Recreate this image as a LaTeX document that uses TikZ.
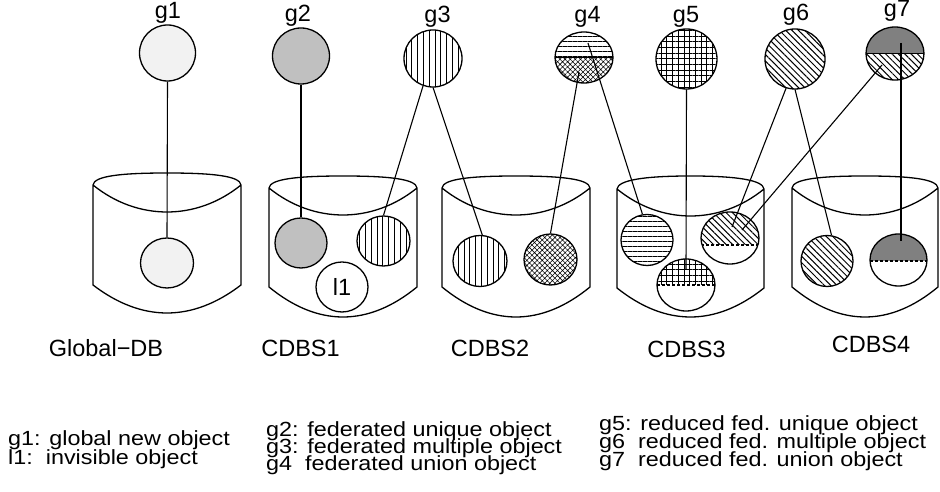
\documentclass[tikz,border=0pt]{standalone}
\usepackage{fontspec}
\setmainfont{Liberation Sans}
\usetikzlibrary{shapes.geometric,patterns.meta}
\definecolor{lightg}{HTML}{F2F2F2}
\definecolor{midg}{HTML}{C0C0C0}
\definecolor{darkg}{HTML}{808080}
\newcommand\mybucket[7]{%
  \draw[shp] (#1,#3) -- (#1,#6)
    .. controls ({#1+0.33*(#2-#1)},{#6-(#6-#7)*4/3}) and ({#2-0.33*(#2-#1)},{#6-(#6-#7)*4/3}) .. (#2,#6)
    -- (#2,#3)
    .. controls ({#2-1},{#3+9}) and ({#2-28},#4) .. ({(#1+#2)/2},#4)
    .. controls ({#1+28},#4) and ({#1+1},{#3+9}) .. (#1,#3)
    .. controls ({#1+0.3*(#2-#1)},{#3-(#3-#5)*4/3}) and ({#2-0.3*(#2-#1)},{#3-(#3-#5)*4/3}) .. (#2,#3);}
\begin{document}
\begin{tikzpicture}[x=1pt,y=1pt,
  shp/.style={line width=1.3pt, line join=round},
  obj/.style={ellipse, draw, line width=1.3pt, inner sep=0pt, preaction={fill=white}},
  con/.style={line width=1.1pt},
  lab/.style={font=\fontsize{23.5}{28}\selectfont, anchor=base, inner sep=0pt},
  leg/.style={font=\fontsize{20.5}{24}\selectfont, anchor=base west, inner sep=0pt},
  vlines/.style={pattern={Lines[angle=90,distance=5.8pt,line width=1pt]}},
  hlines/.style={pattern={Lines[angle=0,distance=5pt,line width=1pt]}},
  dlines/.style={pattern={Lines[angle=-45,distance=4.5pt,line width=1pt]}},
  gridpat/.style={pattern={Hatch[angle=0,distance=5.7pt,line width=0.9pt]}},
  finepat/.style={pattern={Hatch[angle=45,distance=3.6pt,line width=0.55pt]}},
  divd/.style={line width=1.1pt, dash pattern=on 3pt off 2pt},
  divs/.style={line width=1.1pt}
]
\useasboundingbox (0,0) rectangle (940,492);

% buckets
\mybucket{93}{241}{307}{319}{280}{207}{179}
\mybucket{269}{417}{304}{316}{277}{205}{175}
\mybucket{442}{590}{304}{316}{277}{205}{175}
\mybucket{617}{764}{303}{316}{276}{204}{175}
\mybucket{792}{938}{304}{316}{277}{205}{175}

% top objects
\node[obj, minimum width=56pt, minimum height=56pt, fill=lightg] (g1) at (167.5,439) {};
\node[obj, minimum width=57pt, minimum height=56pt, fill=midg] (g2) at (301,436) {};
\node[obj, minimum width=58pt, minimum height=57pt, vlines] (g3) at (433,433.5) {};
\node[obj, minimum width=58pt, minimum height=51pt, path picture={
   \fill[hlines] (path picture bounding box.west) rectangle (path picture bounding box.north east);
   \fill[finepat] (path picture bounding box.west) rectangle (path picture bounding box.south east);
   \draw[divs] (path picture bounding box.west) -- (path picture bounding box.east);}] (g4) at (584,434.5) {};
\node[obj, minimum width=61pt, minimum height=60pt, gridpat] (g5) at (686.5,433) {};
\node[obj, minimum width=60pt, minimum height=60pt, dlines] (g6) at (795,433) {};
\node[obj, minimum width=58pt, minimum height=53pt, path picture={
   \fill[darkg] (path picture bounding box.west) rectangle (path picture bounding box.north east);
   \fill[dlines] (path picture bounding box.west) rectangle (path picture bounding box.south east);
   \draw[divs] (path picture bounding box.west) -- (path picture bounding box.east);}] (g7) at (895,438.5) {};

\node[lab] (tg1) at (168,473) {g1};
\node[lab] (tg2) at (298,470) {g2};
\node[lab] (tg3) at (437.5,469) {g3};
\node[lab] (tg4) at (587.5,469) {g4};
\node[lab] (tg5) at (686,469) {g5};
\node[lab] (tg6) at (796,471) {g6};
\node[lab] (tg7) at (897,475) {g7};

% objects inside the databases
\node[obj, minimum width=53pt, minimum height=50pt, fill=lightg] (c0) at (167,229) {};
\node[obj, minimum width=52pt, minimum height=50pt, fill=midg] (c1a) at (301,249) {};
\node[obj, minimum width=53pt, minimum height=50pt, vlines] (c1b) at (383.5,251) {};
\node[obj, minimum width=52pt, minimum height=50pt, font=\fontsize{23.5}{28}\selectfont] (cl1) at (342,205) {l1};
\node[obj, minimum width=54pt, minimum height=51pt, vlines] (c2a) at (480,231) {};
\node[obj, minimum width=53pt, minimum height=51pt, finepat] (c2b) at (550.5,232.5) {};
\node[obj, minimum width=52pt, minimum height=51pt, hlines] (c3a) at (647,252) {};
\node[obj, minimum width=58pt, minimum height=52pt, path picture={
   \fill[dlines] ([yshift=-7pt]path picture bounding box.west) rectangle (path picture bounding box.north east);
   \draw[divd] ([yshift=-7pt]path picture bounding box.west) -- ([yshift=-7pt]path picture bounding box.east);}] (c3b) at (730,254) {};
\node[obj, minimum width=58pt, minimum height=52pt, path picture={
   \fill[gridpat] (path picture bounding box.west) rectangle (path picture bounding box.north east);
   \draw[divd] (path picture bounding box.west) -- (path picture bounding box.east);}] (c3c) at (686,207) {};
\node[obj, minimum width=52pt, minimum height=51pt, dlines] (c4a) at (827,231) {};
\node[obj, minimum width=57pt, minimum height=52pt, path picture={
   \fill[darkg] ([yshift=-1pt]path picture bounding box.west) rectangle (path picture bounding box.north east);
   \draw[divd] ([yshift=-1pt]path picture bounding box.west) -- ([yshift=-1pt]path picture bounding box.east);}] (c4b) at (898.5,232) {};

% inner end points
\coordinate (g4lo) at (579,420);
\coordinate (g4hi) at (588,449);
\coordinate (c3cin) at (686,222);
\coordinate (c3bin1) at (732,265);
\coordinate (c3bin2) at (742,262);
\coordinate (g7lo) at (882,427);
\coordinate (g7hi) at (901,449);
\coordinate (c4bin) at (901,251);

% connectors
\draw[con] (g1.south) -- (c0.north);
\draw[con] (g2.south) -- (c1a.north);
\draw[con] (g3.250) -- (c1b.north);
\draw[con] (g3.south) -- (c2a.85);
\draw[con] (g4lo) -- (c2b.north);
\draw[con] (g4hi) -- (c3a.100);
\draw[con] (g5.south) -- (c3cin);
\draw[con] (g6.253) -- (c3bin1);
\draw[con] (g6.south) -- (c4a.80);
\draw[con] (g7lo) -- (c3bin2);
\draw[con] (g7hi) -- (c4bin);

% database names
\node[lab] (n0) at (106,135) {Global−DB};
\node[lab] (n1) at (300.5,135) {CDBS1};
\node[lab] (n2) at (490,135) {CDBS2};
\node[lab] (n3) at (686.5,134) {CDBS3};
\node[lab] (n4) at (871,139) {CDBS4};

% legend
\node[leg] (l1) at (8,46) {\scalebox{1.14}[1]{g1: global new object}};
\node[leg] (l2) at (8,27) {\scalebox{1.14}[1]{l1:\ \ invisible object}};
\node[leg] (l3) at (266,55) {\scalebox{1.14}[1]{g2: federated unique object}};
\node[leg] (l4) at (266,38) {\scalebox{1.14}[1]{g3: federated multiple object}};
\node[leg] (l5) at (266,21) {\scalebox{1.14}[1]{g4\ \ federated union object}};
\node[leg] (l6) at (599,61) {\scalebox{1.14}[1]{g5: reduced fed. unique object}};
\node[leg] (l7) at (599,43) {\scalebox{1.14}[1]{g6\ \ reduced fed. multiple object}};
\node[leg] (l8) at (599,25) {\scalebox{1.14}[1]{g7\ \ reduced fed. union object}};
\end{tikzpicture}
\end{document}
